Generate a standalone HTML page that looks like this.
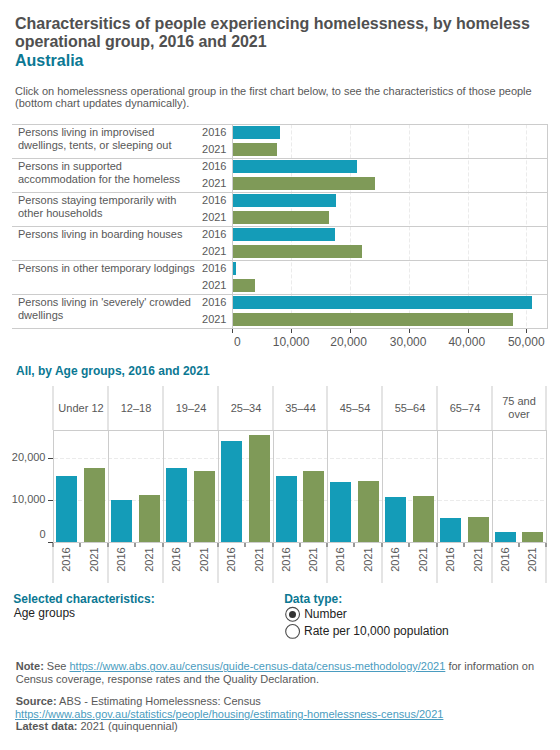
<!DOCTYPE html>
<html><head><meta charset="utf-8"><title>Homelessness</title>
<style>
html,body{margin:0;padding:0;background:#fff;}
body{position:relative;width:560px;height:750px;overflow:hidden;font-family:"Liberation Sans",sans-serif;}
.t{position:absolute;white-space:nowrap;line-height:1;}
.r{position:absolute;}
a{color:#4a9cc0;text-decoration:underline;}
</style></head><body>

<div class="t" style="left:15px;top:16.46px;font-size:16px;color:#505050;font-weight:bold;">Charactersitics of people experiencing homelessness, by homeless</div>
<div class="t" style="left:15px;top:33.96px;font-size:16px;color:#505050;font-weight:bold;letter-spacing:-0.06px;">operational group, 2016 and 2021</div>
<div class="t" style="left:15px;top:52.96px;font-size:16px;color:#0b7893;font-weight:bold;">Australia</div>
<div class="t" style="left:15px;top:85.69px;font-size:11px;color:#585858;">Click on homelessness operational group in the first chart below, to see the characteristics of those people</div>
<div class="t" style="left:15px;top:98.29px;font-size:11px;color:#585858;">(bottom chart updates dynamically).</div>
<svg class="r" style="left:0;top:0" width="560" height="750">
<line x1="291.5" y1="124.4" x2="291.5" y2="328" stroke="#ebebeb" stroke-width="1" stroke-dasharray="4,2"/>
<line x1="350.5" y1="124.4" x2="350.5" y2="328" stroke="#ebebeb" stroke-width="1" stroke-dasharray="4,2"/>
<line x1="409.5" y1="124.4" x2="409.5" y2="328" stroke="#ebebeb" stroke-width="1" stroke-dasharray="4,2"/>
<line x1="468.5" y1="124.4" x2="468.5" y2="328" stroke="#ebebeb" stroke-width="1" stroke-dasharray="4,2"/>
<line x1="526.5" y1="124.4" x2="526.5" y2="328" stroke="#ebebeb" stroke-width="1" stroke-dasharray="4,2"/>
</svg>
<div class="r" style="left:12px;top:124px;width:536px;height:1px;background:#cccccc"></div>
<div class="r" style="left:12px;top:158px;width:536px;height:1px;background:#cccccc"></div>
<div class="r" style="left:12px;top:192px;width:536px;height:1px;background:#cccccc"></div>
<div class="r" style="left:12px;top:226px;width:536px;height:1px;background:#cccccc"></div>
<div class="r" style="left:12px;top:260px;width:536px;height:1px;background:#cccccc"></div>
<div class="r" style="left:12px;top:294px;width:536px;height:1px;background:#cccccc"></div>
<div class="r" style="left:12px;top:328px;width:536px;height:1px;background:#cccccc"></div>
<div class="r" style="left:547px;top:124px;width:1px;height:205px;background:#cccccc"></div>
<div class="r" style="left:232px;top:124px;width:1px;height:205px;background:#cccccc"></div>
<div class="t" style="left:18px;top:126.69px;font-size:11px;color:#585858;">Persons living in improvised</div>
<div class="t" style="left:18px;top:140.39px;font-size:11px;color:#585858;">dwellings, tents, or sleeping out</div>
<div class="t" style="right:333.5px;top:126.69px;font-size:11px;color:#585858;">2016</div>
<div class="t" style="right:333.5px;top:143.69px;font-size:11px;color:#585858;">2021</div>
<div class="r" style="left:233px;top:126px;width:47px;height:13px;background:#149cb8"></div>
<div class="r" style="left:233px;top:143px;width:44px;height:13px;background:#7f9a58"></div>
<div class="t" style="left:18px;top:160.69px;font-size:11px;color:#585858;">Persons in supported</div>
<div class="t" style="left:18px;top:174.39px;font-size:11px;color:#585858;">accommodation for the homeless</div>
<div class="t" style="right:333.5px;top:160.69px;font-size:11px;color:#585858;">2016</div>
<div class="t" style="right:333.5px;top:177.69px;font-size:11px;color:#585858;">2021</div>
<div class="r" style="left:233px;top:160px;width:124px;height:13px;background:#149cb8"></div>
<div class="r" style="left:233px;top:177px;width:142px;height:13px;background:#7f9a58"></div>
<div class="t" style="left:18px;top:194.69px;font-size:11px;color:#585858;">Persons staying temporarily with</div>
<div class="t" style="left:18px;top:208.39px;font-size:11px;color:#585858;">other households</div>
<div class="t" style="right:333.5px;top:194.69px;font-size:11px;color:#585858;">2016</div>
<div class="t" style="right:333.5px;top:211.69px;font-size:11px;color:#585858;">2021</div>
<div class="r" style="left:233px;top:194px;width:103px;height:13px;background:#149cb8"></div>
<div class="r" style="left:233px;top:211px;width:96px;height:13px;background:#7f9a58"></div>
<div class="t" style="left:18px;top:228.69px;font-size:11px;color:#585858;">Persons living in boarding houses</div>
<div class="t" style="right:333.5px;top:228.69px;font-size:11px;color:#585858;">2016</div>
<div class="t" style="right:333.5px;top:245.69px;font-size:11px;color:#585858;">2021</div>
<div class="r" style="left:233px;top:228px;width:102px;height:13px;background:#149cb8"></div>
<div class="r" style="left:233px;top:245px;width:129px;height:13px;background:#7f9a58"></div>
<div class="t" style="left:18px;top:262.69px;font-size:11px;color:#585858;">Persons in other temporary lodgings</div>
<div class="t" style="right:333.5px;top:262.69px;font-size:11px;color:#585858;">2016</div>
<div class="t" style="right:333.5px;top:279.69px;font-size:11px;color:#585858;">2021</div>
<div class="r" style="left:233px;top:262px;width:3px;height:13px;background:#149cb8"></div>
<div class="r" style="left:233px;top:279px;width:22px;height:13px;background:#7f9a58"></div>
<div class="t" style="left:18px;top:296.69px;font-size:11px;color:#585858;">Persons living in 'severely' crowded</div>
<div class="t" style="left:18px;top:310.39px;font-size:11px;color:#585858;">dwellings</div>
<div class="t" style="right:333.5px;top:296.69px;font-size:11px;color:#585858;">2016</div>
<div class="t" style="right:333.5px;top:313.69px;font-size:11px;color:#585858;">2021</div>
<div class="r" style="left:233px;top:296px;width:299px;height:13px;background:#149cb8"></div>
<div class="r" style="left:233px;top:313px;width:280px;height:13px;background:#7f9a58"></div>
<div class="r" style="left:232px;top:329px;width:1px;height:4px;background:#444"></div>
<div class="r" style="left:291px;top:329px;width:1px;height:4px;background:#444"></div>
<div class="r" style="left:350px;top:329px;width:1px;height:4px;background:#444"></div>
<div class="r" style="left:409px;top:329px;width:1px;height:4px;background:#444"></div>
<div class="r" style="left:468px;top:329px;width:1px;height:4px;background:#444"></div>
<div class="r" style="left:526px;top:329px;width:1px;height:4px;background:#444"></div>
<div class="t" style="left:137.3px;width:200px;text-align:center;top:336.14px;font-size:12px;color:#585858;">0</div>
<div class="t" style="left:191.10000000000002px;width:200px;text-align:center;top:336.14px;font-size:12px;color:#585858;">10,000</div>
<div class="t" style="left:248.60000000000002px;width:200px;text-align:center;top:336.14px;font-size:12px;color:#585858;">20,000</div>
<div class="t" style="left:308.1px;width:200px;text-align:center;top:336.14px;font-size:12px;color:#585858;">30,000</div>
<div class="t" style="left:366.8px;width:200px;text-align:center;top:336.14px;font-size:12px;color:#585858;">40,000</div>
<div class="t" style="left:426.29999999999995px;width:200px;text-align:center;top:336.14px;font-size:12px;color:#585858;">50,000</div>
<div class="t" style="left:16px;top:364.54px;font-size:12px;color:#0b7893;font-weight:bold;">All, by Age groups, 2016 and 2021</div>
<div class="r" style="left:52px;top:386px;width:2px;height:44px;background:#e4e4e4"></div>
<div class="r" style="left:52px;top:547px;width:2px;height:36px;background:#e4e4e4"></div>
<div class="r" style="left:107px;top:386px;width:2px;height:44px;background:#e4e4e4"></div>
<div class="r" style="left:107px;top:547px;width:2px;height:36px;background:#e4e4e4"></div>
<div class="r" style="left:162px;top:386px;width:2px;height:44px;background:#e4e4e4"></div>
<div class="r" style="left:162px;top:547px;width:2px;height:36px;background:#e4e4e4"></div>
<div class="r" style="left:217px;top:386px;width:2px;height:44px;background:#e4e4e4"></div>
<div class="r" style="left:217px;top:547px;width:2px;height:36px;background:#e4e4e4"></div>
<div class="r" style="left:272px;top:386px;width:2px;height:44px;background:#e4e4e4"></div>
<div class="r" style="left:272px;top:547px;width:2px;height:36px;background:#e4e4e4"></div>
<div class="r" style="left:326px;top:386px;width:2px;height:44px;background:#e4e4e4"></div>
<div class="r" style="left:326px;top:547px;width:2px;height:36px;background:#e4e4e4"></div>
<div class="r" style="left:381px;top:386px;width:2px;height:44px;background:#e4e4e4"></div>
<div class="r" style="left:381px;top:547px;width:2px;height:36px;background:#e4e4e4"></div>
<div class="r" style="left:436px;top:386px;width:2px;height:44px;background:#e4e4e4"></div>
<div class="r" style="left:436px;top:547px;width:2px;height:36px;background:#e4e4e4"></div>
<div class="r" style="left:491px;top:386px;width:2px;height:44px;background:#e4e4e4"></div>
<div class="r" style="left:491px;top:547px;width:2px;height:36px;background:#e4e4e4"></div>
<div class="r" style="left:545px;top:386px;width:2px;height:44px;background:#e4e4e4"></div>
<div class="r" style="left:545px;top:547px;width:2px;height:36px;background:#e4e4e4"></div>
<div class="t" style="left:-19.0px;width:200px;text-align:center;top:403.39px;font-size:11px;color:#585858;">Under 12</div>
<div class="t" style="left:36.0px;width:200px;text-align:center;top:403.39px;font-size:11px;color:#585858;">12–18</div>
<div class="t" style="left:91.0px;width:200px;text-align:center;top:403.39px;font-size:11px;color:#585858;">19–24</div>
<div class="t" style="left:146.0px;width:200px;text-align:center;top:403.39px;font-size:11px;color:#585858;">25–34</div>
<div class="t" style="left:200.5px;width:200px;text-align:center;top:403.39px;font-size:11px;color:#585858;">35–44</div>
<div class="t" style="left:255.0px;width:200px;text-align:center;top:403.39px;font-size:11px;color:#585858;">45–54</div>
<div class="t" style="left:310.0px;width:200px;text-align:center;top:403.39px;font-size:11px;color:#585858;">55–64</div>
<div class="t" style="left:365.0px;width:200px;text-align:center;top:403.39px;font-size:11px;color:#585858;">65–74</div>
<div class="t" style="left:419.0px;width:200px;text-align:center;top:396.39px;font-size:11px;color:#585858;">75 and</div>
<div class="t" style="left:419.0px;width:200px;text-align:center;top:408.69px;font-size:11px;color:#585858;">over</div>
<svg class="r" style="left:0;top:0" width="560" height="750">
<line x1="54" y1="458.5" x2="546" y2="458.5" stroke="#ebebeb" stroke-width="1" stroke-dasharray="4,2"/>
<line x1="54" y1="500.5" x2="546" y2="500.5" stroke="#ebebeb" stroke-width="1" stroke-dasharray="4,2"/>
</svg>
<div class="r" style="left:53px;top:430px;width:494px;height:1px;background:#cccccc"></div>
<div class="r" style="left:53px;top:430px;width:1px;height:112px;background:#cccccc"></div>
<div class="r" style="left:108px;top:430px;width:1px;height:112px;background:#cccccc"></div>
<div class="r" style="left:163px;top:430px;width:1px;height:112px;background:#cccccc"></div>
<div class="r" style="left:218px;top:430px;width:1px;height:112px;background:#cccccc"></div>
<div class="r" style="left:273px;top:430px;width:1px;height:112px;background:#cccccc"></div>
<div class="r" style="left:327px;top:430px;width:1px;height:112px;background:#cccccc"></div>
<div class="r" style="left:382px;top:430px;width:1px;height:112px;background:#cccccc"></div>
<div class="r" style="left:437px;top:430px;width:1px;height:112px;background:#cccccc"></div>
<div class="r" style="left:492px;top:430px;width:1px;height:112px;background:#cccccc"></div>
<div class="r" style="left:546px;top:430px;width:1px;height:112px;background:#cccccc"></div>
<div class="r" style="left:53px;top:542px;width:494px;height:1px;background:#cccccc"></div>
<div class="r" style="left:56px;top:476px;width:21px;height:66px;background:#149cb8"></div>
<div class="r" style="left:84px;top:468px;width:21px;height:74px;background:#7f9a58"></div>
<div class="r" style="left:111px;top:500px;width:21px;height:42px;background:#149cb8"></div>
<div class="r" style="left:139px;top:495px;width:21px;height:47px;background:#7f9a58"></div>
<div class="r" style="left:166px;top:468px;width:21px;height:74px;background:#149cb8"></div>
<div class="r" style="left:194px;top:471px;width:21px;height:71px;background:#7f9a58"></div>
<div class="r" style="left:221px;top:441px;width:21px;height:101px;background:#149cb8"></div>
<div class="r" style="left:249px;top:435px;width:21px;height:107px;background:#7f9a58"></div>
<div class="r" style="left:276px;top:476px;width:21px;height:66px;background:#149cb8"></div>
<div class="r" style="left:303px;top:471px;width:21px;height:71px;background:#7f9a58"></div>
<div class="r" style="left:330px;top:482px;width:21px;height:60px;background:#149cb8"></div>
<div class="r" style="left:358px;top:481px;width:21px;height:61px;background:#7f9a58"></div>
<div class="r" style="left:385px;top:497px;width:21px;height:45px;background:#149cb8"></div>
<div class="r" style="left:413px;top:496px;width:21px;height:46px;background:#7f9a58"></div>
<div class="r" style="left:440px;top:518px;width:21px;height:24px;background:#149cb8"></div>
<div class="r" style="left:468px;top:517px;width:21px;height:25px;background:#7f9a58"></div>
<div class="r" style="left:495px;top:532px;width:21px;height:10px;background:#149cb8"></div>
<div class="r" style="left:522px;top:532px;width:21px;height:10px;background:#7f9a58"></div>
<div class="r" style="left:48px;top:458px;width:5px;height:1px;background:#444"></div>
<div class="r" style="left:48px;top:500px;width:5px;height:1px;background:#444"></div>
<div class="r" style="left:48px;top:542px;width:5px;height:1px;background:#444"></div>
<div class="t" style="right:514.5px;top:452.09px;font-size:11px;color:#585858;">20,000</div>
<div class="t" style="right:514.5px;top:493.89px;font-size:11px;color:#585858;">10,000</div>
<div class="t" style="right:514.5px;top:528.69px;font-size:11px;color:#585858;">0</div>
<div class="r" style="left:52px;top:543px;width:2px;height:4px;background:#999"></div>
<div class="r" style="left:79px;top:543px;width:2px;height:4px;background:#999"></div>
<div class="r" style="left:107px;top:543px;width:2px;height:4px;background:#999"></div>
<div class="r" style="left:134px;top:543px;width:2px;height:4px;background:#999"></div>
<div class="r" style="left:162px;top:543px;width:2px;height:4px;background:#999"></div>
<div class="r" style="left:189px;top:543px;width:2px;height:4px;background:#999"></div>
<div class="r" style="left:217px;top:543px;width:2px;height:4px;background:#999"></div>
<div class="r" style="left:244px;top:543px;width:2px;height:4px;background:#999"></div>
<div class="r" style="left:272px;top:543px;width:2px;height:4px;background:#999"></div>
<div class="r" style="left:299px;top:543px;width:2px;height:4px;background:#999"></div>
<div class="r" style="left:326px;top:543px;width:2px;height:4px;background:#999"></div>
<div class="r" style="left:353px;top:543px;width:2px;height:4px;background:#999"></div>
<div class="r" style="left:381px;top:543px;width:2px;height:4px;background:#999"></div>
<div class="r" style="left:408px;top:543px;width:2px;height:4px;background:#999"></div>
<div class="r" style="left:436px;top:543px;width:2px;height:4px;background:#999"></div>
<div class="r" style="left:463px;top:543px;width:2px;height:4px;background:#999"></div>
<div class="r" style="left:491px;top:543px;width:2px;height:4px;background:#999"></div>
<div class="r" style="left:518px;top:543px;width:2px;height:4px;background:#999"></div>
<div class="r" style="left:545px;top:543px;width:2px;height:4px;background:#999"></div>
<div class="t" style="left:35.7px;top:554.2px;width:60px;height:11px;text-align:center;font-size:11px;color:#585858;transform:rotate(-90deg);">2016</div>
<div class="t" style="left:63.7px;top:554.2px;width:60px;height:11px;text-align:center;font-size:11px;color:#585858;transform:rotate(-90deg);">2021</div>
<div class="t" style="left:90.7px;top:554.2px;width:60px;height:11px;text-align:center;font-size:11px;color:#585858;transform:rotate(-90deg);">2016</div>
<div class="t" style="left:118.69999999999999px;top:554.2px;width:60px;height:11px;text-align:center;font-size:11px;color:#585858;transform:rotate(-90deg);">2021</div>
<div class="t" style="left:145.7px;top:554.2px;width:60px;height:11px;text-align:center;font-size:11px;color:#585858;transform:rotate(-90deg);">2016</div>
<div class="t" style="left:173.7px;top:554.2px;width:60px;height:11px;text-align:center;font-size:11px;color:#585858;transform:rotate(-90deg);">2021</div>
<div class="t" style="left:200.7px;top:554.2px;width:60px;height:11px;text-align:center;font-size:11px;color:#585858;transform:rotate(-90deg);">2016</div>
<div class="t" style="left:228.7px;top:554.2px;width:60px;height:11px;text-align:center;font-size:11px;color:#585858;transform:rotate(-90deg);">2021</div>
<div class="t" style="left:255.7px;top:554.2px;width:60px;height:11px;text-align:center;font-size:11px;color:#585858;transform:rotate(-90deg);">2016</div>
<div class="t" style="left:282.7px;top:554.2px;width:60px;height:11px;text-align:center;font-size:11px;color:#585858;transform:rotate(-90deg);">2021</div>
<div class="t" style="left:309.7px;top:554.2px;width:60px;height:11px;text-align:center;font-size:11px;color:#585858;transform:rotate(-90deg);">2016</div>
<div class="t" style="left:337.7px;top:554.2px;width:60px;height:11px;text-align:center;font-size:11px;color:#585858;transform:rotate(-90deg);">2021</div>
<div class="t" style="left:364.7px;top:554.2px;width:60px;height:11px;text-align:center;font-size:11px;color:#585858;transform:rotate(-90deg);">2016</div>
<div class="t" style="left:392.7px;top:554.2px;width:60px;height:11px;text-align:center;font-size:11px;color:#585858;transform:rotate(-90deg);">2021</div>
<div class="t" style="left:419.7px;top:554.2px;width:60px;height:11px;text-align:center;font-size:11px;color:#585858;transform:rotate(-90deg);">2016</div>
<div class="t" style="left:447.7px;top:554.2px;width:60px;height:11px;text-align:center;font-size:11px;color:#585858;transform:rotate(-90deg);">2021</div>
<div class="t" style="left:474.7px;top:554.2px;width:60px;height:11px;text-align:center;font-size:11px;color:#585858;transform:rotate(-90deg);">2016</div>
<div class="t" style="left:501.70000000000005px;top:554.2px;width:60px;height:11px;text-align:center;font-size:11px;color:#585858;transform:rotate(-90deg);">2021</div>
<div class="t" style="left:13.3px;top:593.24px;font-size:12px;color:#0b7893;font-weight:bold;">Selected characteristics:</div>
<div class="t" style="left:13.7px;top:607.44px;font-size:12px;color:#222;">Age groups</div>
<div class="t" style="left:284.2px;top:593.04px;font-size:12px;color:#0b7893;font-weight:bold;">Data type:</div>
<svg class="r" style="left:0;top:0" width="560" height="750">
<circle cx="292.6" cy="614.3" r="6.9" fill="#fff" stroke="#4a4a4a" stroke-width="1.1"/>
<circle cx="292.5" cy="614.5" r="3.5" fill="#333"/>
<circle cx="292.6" cy="631.4" r="6.9" fill="#fff" stroke="#4a4a4a" stroke-width="1.1"/>
</svg>
<div class="t" style="left:304.2px;top:608.44px;font-size:12px;color:#222;">Number</div>
<div class="t" style="left:304px;top:624.84px;font-size:12px;color:#222;">Rate per 10,000 population</div>
<div class="t" style="left:15.7px;top:661.29px;font-size:11px;color:#585858;"><b>Note:</b> See <a>https://www.abs.gov.au/census/guide-census-data/census-methodology/2021</a> for information on</div>
<div class="t" style="left:15.7px;top:674.39px;font-size:11px;color:#585858;">Census coverage, response rates and the Quality Declaration.</div>
<div class="t" style="left:15.7px;top:696.19px;font-size:11px;color:#585858;"><b>Source:</b> ABS - Estimating Homelessness: Census</div>
<div class="t" style="left:15px;top:708.94px;font-size:11px;color:#585858;"><a>https://www.abs.gov.au/statistics/people/housing/estimating-homelessness-census/2021</a></div>
<div class="t" style="left:15.7px;top:720.69px;font-size:11px;color:#585858;"><b>Latest data:</b> 2021 (quinquennial)</div>
</body></html>
